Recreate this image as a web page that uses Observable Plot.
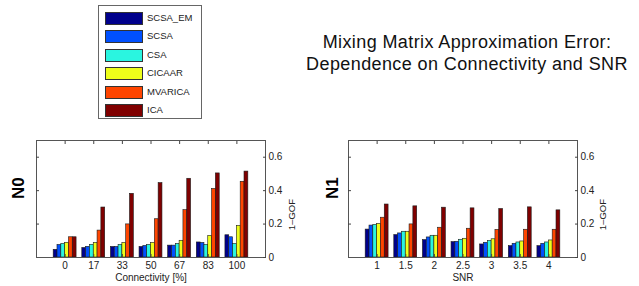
<!DOCTYPE html>
<html>
<head>
<meta charset="utf-8">
<script src="https://cdn.jsdelivr.net/npm/d3@7"></script>
<script src="https://cdn.jsdelivr.net/npm/@observablehq/plot@0.6"></script>
<style>
  html, body { margin: 0; padding: 0; background: #fff; }
  #fig { position: relative; width: 639px; height: 286px; background: #fff; overflow: hidden;
         font-family: "Liberation Sans", Arial, Helvetica, sans-serif; color: #1a1a1a; }
  #legend { position: absolute; left: 98px; top: 5px; width: 102px; height: 112px; border: 1px solid #666; background: #fff; }
  .row { position: absolute; left: 6px; height: 12px; }
  .sw { position: absolute; left: 0; top: 0; width: 36px; height: 11px; border: 1px solid #333; }
  .lb { position: absolute; left: 42px; top: -1px; font-size: 9.5px; line-height: 14px; white-space: nowrap; color: #222; }
  #title { position: absolute; left: 292px; top: 31px; width: 350px; text-align: center;
           font-size: 18px; line-height: 22px; letter-spacing: 0.4px; color: #111; }
  .panel { position: absolute; top: 130px; }
</style>
</head>
<body>
<div id="fig">
  <div id="legend"></div>
  <div id="title">Mixing Matrix Approximation Error:<br>Dependence on Connectivity and SNR</div>
  <div id="p0" class="panel" style="left:0px"></div>
  <div id="p1" class="panel" style="left:320px"></div>
</div>
<script>
// ---- data ----
const series = ["SCSA_EM", "SCSA", "CSA", "CICAAR", "MVARICA", "ICA"];
const seriesColors = ["#00008c", "#0050ff", "#2af5e0", "#eeff1a", "#ff4500", "#800000"];
const connectivity = ["0", "17", "33", "50", "67", "83", "100"];
const snr = ["1", "1.5", "2", "2.5", "3", "3.5", "4"];
const yTicks = [0, 0.2, 0.4, 0.6];

// N0: 1-GOF vs connectivity [%]
const n0_SCSA_EM = [0.046, 0.057, 0.063, 0.063, 0.071, 0.090, 0.133];
const n0_SCSA    = [0.075, 0.064, 0.063, 0.069, 0.071, 0.087, 0.121];
const n0_CSA     = [0.081, 0.075, 0.075, 0.075, 0.081, 0.075, 0.081];
const n0_CICAAR  = [0.088, 0.087, 0.087, 0.087, 0.100, 0.129, 0.189];
const n0_MVARICA = [0.121, 0.161, 0.198, 0.229, 0.283, 0.410, 0.453];
const n0_ICA     = [0.121, 0.299, 0.381, 0.445, 0.471, 0.503, 0.514];

// N1: 1-GOF vs SNR
const n1_SCSA_EM = [0.167, 0.134, 0.104, 0.092, 0.078, 0.068, 0.068];
const n1_SCSA    = [0.191, 0.144, 0.120, 0.094, 0.088, 0.082, 0.082];
const n1_CSA     = [0.195, 0.154, 0.130, 0.106, 0.099, 0.090, 0.090];
const n1_CICAAR  = [0.201, 0.154, 0.130, 0.112, 0.109, 0.096, 0.102];
const n1_MVARICA = [0.238, 0.198, 0.178, 0.172, 0.165, 0.166, 0.166];
const n1_ICA     = [0.317, 0.306, 0.298, 0.294, 0.290, 0.300, 0.282];

// ---- legend ----
const legend = document.getElementById("legend");
series.forEach((s, k) => {
  const row = document.createElement("div");
  row.className = "row";
  row.style.top = (6 + k * 18.4) + "px";
  row.innerHTML = `<div class="sw" style="background:${seriesColors[k]}"></div><div class="lb">${s}</div>`;
  legend.appendChild(row);
});

// ---- panels ----
const groupWidth = 0.8;
const barW = groupWidth / series.length;

function panel(cats, values, name, xLabel, opts) {
  const rows = [];
  cats.forEach((c, i) => series.forEach((s, k) => rows.push({cat: c, i, k, series: s, value: values[k][i]})));
  const pos = d3.range(1, cats.length + 1);
  const axisStyle = {stroke: "#444", fill: "#222", fontSize: 10};
  return Plot.plot({
    width: opts.width, height: 156,
    marginLeft: opts.ml, marginRight: opts.mr, marginTop: 10, marginBottom: 29,
    style: {fontFamily: '"Liberation Sans", Arial, Helvetica, sans-serif', fontSize: "10px", color: "#222", background: "transparent", overflow: "visible"},
    x: {type: "linear", domain: [0, cats.length + 1], axis: null},
    y: {domain: [0, 0.7], axis: null},
    color: {domain: series, range: seriesColors},
    marks: [
      Plot.rect(rows, {
        x1: d => d.i + 1 - groupWidth / 2 + d.k * barW,
        x2: d => d.i + 1 - groupWidth / 2 + (d.k + 1) * barW,
        y1: 0, y2: "value", fill: "series", stroke: "#1a1a1a", strokeWidth: 0.6
      }),
      Plot.frame({stroke: "#555"}),
      Plot.axisX(pos, {anchor: "bottom", tickSize: -3, tickPadding: 7, tickFormat: v => cats[v - 1], label: null, ...axisStyle}),
      Plot.axisX(pos, {anchor: "top", tickSize: -3, tickFormat: () => "", label: null, ...axisStyle}),
      Plot.axisY(yTicks.slice(1), {anchor: "left", tickSize: -3, tickFormat: () => "", label: null, ...axisStyle}),
      Plot.axisY(yTicks, {anchor: "right", tickSize: -3, tickPadding: 6, tickFormat: v => String(v), label: null, ...axisStyle}),
      Plot.text([name], {text: d => d, frameAnchor: "left", dx: opts.ndx, rotate: -90, fontSize: 17, fontWeight: "bold", fill: "#000"}),
      Plot.text(["1\u2013GOF"], {text: d => d, frameAnchor: "right", dx: opts.gdx, rotate: -90, fontSize: 9.5, fill: "#222"}),
      Plot.text([xLabel], {text: d => d, frameAnchor: "bottom", dy: 23, fontSize: 10, fill: "#222"})
    ]
  });
}

document.getElementById("p0").appendChild(
  panel(connectivity, [n0_SCSA_EM, n0_SCSA, n0_CSA, n0_CICAAR, n0_MVARICA, n0_ICA], "N0", "Connectivity [%]",
        {width: 320, ml: 36, mr: 55, ndx: -18, gdx: 26}));
document.getElementById("p1").appendChild(
  panel(snr, [n1_SCSA_EM, n1_SCSA, n1_CSA, n1_CICAAR, n1_MVARICA, n1_ICA], "N1", "SNR",
        {width: 319, ml: 28, mr: 62, ndx: -16, gdx: 25}));
</script>
</body>
</html>
